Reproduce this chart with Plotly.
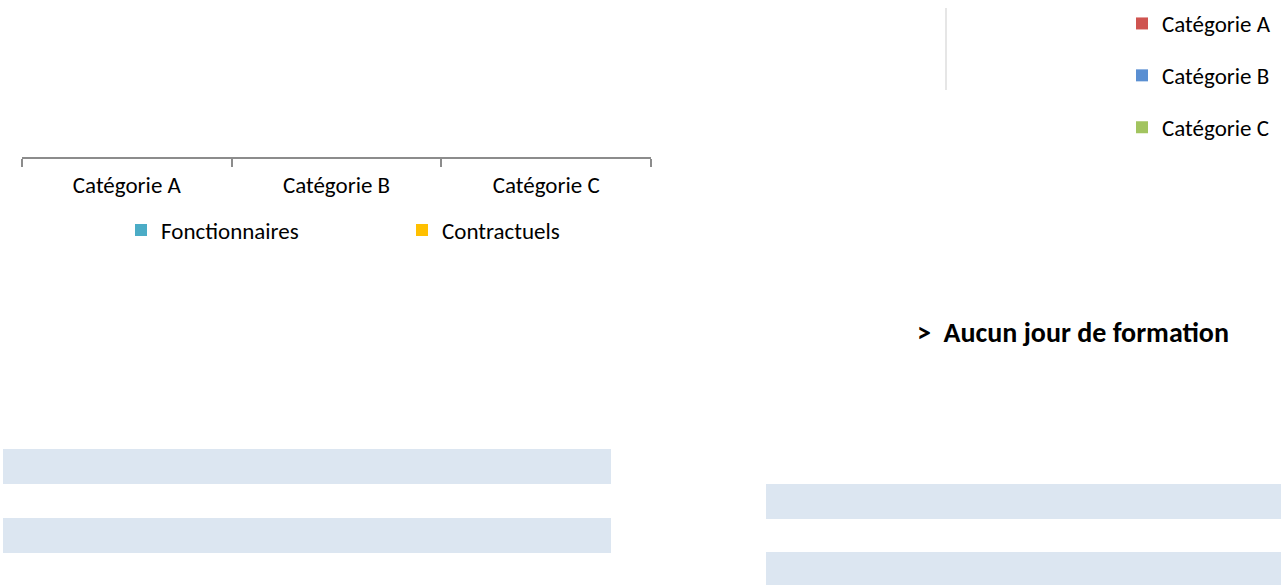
import plotly.graph_objects as go

W, H = 1281, 585

categories = ["Catégorie A", "Catégorie B", "Catégorie C"]
fonctionnaires = [0, 0, 0]
contractuels = [0, 0, 0]

cat_legend = ["Catégorie A", "Catégorie B", "Catégorie C"]
cat_values = [0, 0, 0]
cat_colors = ["#CF5450", "#5A8FD2", "#A2C45F"]

message = ">  Aucun jour de formation"

FONT = "Carlito, Lato, sans-serif"
FS = 23


def px(x):
    return x / W


def py(y):
    return 1 - y / H


fig = go.Figure()

fig.add_trace(go.Bar(x=categories, y=fonctionnaires, name="Fonctionnaires",
                     marker=dict(color="#4BACC6", line=dict(width=0)),
                     xaxis="x", yaxis="y", legend="legend"))
fig.add_trace(go.Bar(x=categories, y=contractuels, name="Contractuels",
                     marker=dict(color="#FFC000", line=dict(width=0)),
                     xaxis="x", yaxis="y", legend="legend"))

for name, v, c in zip(cat_legend, cat_values, cat_colors):
    fig.add_trace(go.Bar(x=[name], y=[v], name=name,
                         marker=dict(color=c, line=dict(width=0)),
                         xaxis="x2", yaxis="y2", legend="legend2", legendgroup=name))

shapes = []
# light blue bands
for (x0, x1, y0, y1) in [(3, 611, 449, 484), (3, 611, 518, 553),
                         (766, 1281, 484, 519), (766, 1281, 552, 585)]:
    shapes.append(dict(type="rect", xref="paper", yref="paper",
                       x0=px(x0), x1=px(x1), y0=py(y1), y1=py(y0),
                       fillcolor="#DCE6F1", line_width=0, layer="below"))
# faint vertical line
shapes.append(dict(type="line", xref="paper", yref="paper",
                   x0=px(946), x1=px(946), y0=py(90), y1=py(8),
                   line=dict(color="#E6E6E6", width=2)))

fig.update_layout(
    template="none",
    width=W, height=H,
    margin=dict(l=0, r=0, t=0, b=0),
    paper_bgcolor="white", plot_bgcolor="rgba(0,0,0,0)",
    font=dict(family=FONT, size=FS, color="#000000"),
    barmode="group",
    xaxis=dict(domain=[px(22), px(651)], type="category",
               categoryorder="array", categoryarray=categories,
               showline=True, linecolor="#8C8C8C", linewidth=2,
               ticks="outside", tickson="boundaries", ticklen=8, tickwidth=2,
               tickcolor="#8C8C8C", showgrid=False, zeroline=False,
               ticklabelstandoff=6, anchor="y",
               tickfont=dict(family=FONT, size=FS, color="#000000")),
    yaxis=dict(domain=[py(157), py(10)], range=[0, 1], visible=False, anchor="x"),
    xaxis2=dict(domain=[px(960), px(1100)], visible=False, anchor="y2"),
    yaxis2=dict(domain=[py(140), py(10)], range=[0, 1], visible=False, anchor="x2"),
    legend=dict(orientation="h", x=px(121), xanchor="left", y=py(230), yanchor="middle",
                entrywidth=236, entrywidthmode="pixels", bgcolor="rgba(0,0,0,0)",
                font=dict(family=FONT, size=FS, color="#000000"),
                traceorder="normal"),
    legend2=dict(orientation="v", x=px(1122), xanchor="left", y=py(2), yanchor="top",
                 bgcolor="rgba(0,0,0,0)", tracegroupgap=19,
                 font=dict(family=FONT, size=FS, color="#000000"),
                 traceorder="grouped"),
    shapes=shapes,
    annotations=[dict(text="<b>" + message + "</b>", xref="paper", yref="paper",
                      x=px(915), y=py(332), xanchor="left", yanchor="middle",
                      showarrow=False, font=dict(family=FONT, size=28, color="#000000"))],
)

fig.write_html("out.html", config={"displayModeBar": False},
               post_script="document.body.style.margin='0';document.body.style.overflow='hidden';")
